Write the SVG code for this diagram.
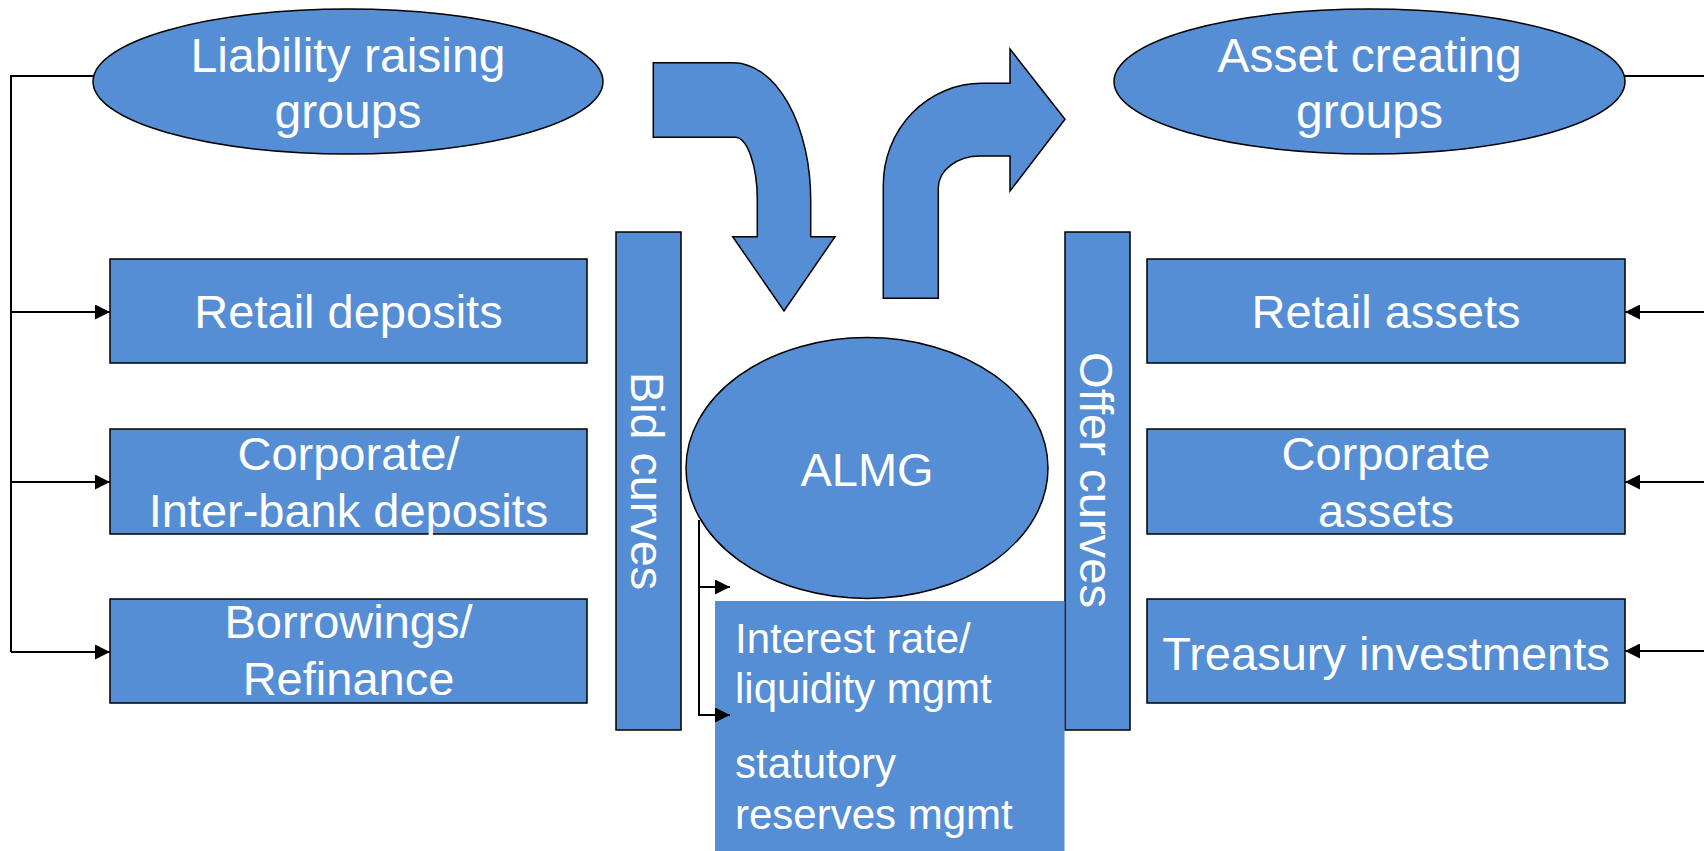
<svg xmlns="http://www.w3.org/2000/svg" width="1704" height="851" viewBox="0 0 1704 851">
<style>
  .shape { fill: #558ED5; stroke: #000; stroke-width: 1.5; }
  .plain { fill: #558ED5; stroke: none; }
  .lbl { font-family: "Liberation Sans", Arial, sans-serif; fill: #fff; font-size: 47px; text-anchor: middle; }
  .big { font-size: 48px; }
  .small { font-size: 42px; text-anchor: start; }
  .conn { fill: none; stroke: #000; stroke-width: 2; }
</style>
<defs>
  <marker id="ah" viewBox="0 0 15 15" refX="15" refY="7.5" markerWidth="15" markerHeight="15" markerUnits="userSpaceOnUse" orient="auto">
    <path d="M0,0 L15,7.5 L0,15 Z" fill="#000"/>
  </marker>
</defs>
<rect width="1704" height="851" fill="#fff"/>

<g id="arrow-down">
  <path class="shape" d="M653.3,62.7 L733,62.7 A77.7,137.3 0 0 1 810.7,200 L810.7,236.7 L835,236.7 L784,311 L732.7,236.7 L757.3,236.7 L757.3,200 A22.3,62.7 0 0 0 735,137.3 L653.3,137.3 Z"/>
</g>
<g id="arrow-up">
  <path class="shape" d="M883.3,298.3 L883.3,185 A98.4,101.7 0 0 1 981.7,83.3 L1010,83.3 L1010,49 L1065,119.3 L1010,191 L1010,156 L980,156 A41.7,32 0 0 0 938.3,188 L938.3,298.3 Z"/>
</g>

<g id="liability">
  <ellipse class="shape" cx="348" cy="81.5" rx="255" ry="72.5"/>
  <text class="lbl big" x="348" y="72">Liability raising</text>
  <text class="lbl big" x="348" y="128">groups</text>
</g>
<g id="asset">
  <ellipse class="shape" cx="1369.5" cy="81.5" rx="255.5" ry="72.5"/>
  <text class="lbl big" x="1369.5" y="72">Asset creating</text>
  <text class="lbl big" x="1369.5" y="128">groups</text>
</g>

<g id="retail-deposits">
  <rect class="shape" x="110" y="259" width="477" height="104"/>
  <text class="lbl" x="348.5" y="328">Retail deposits</text>
</g>
<g id="corporate-deposits">
  <rect class="shape" x="110" y="429" width="477" height="105"/>
  <text class="lbl" x="348.5" y="470">Corporate/</text>
  <text class="lbl" x="348.5" y="526.5">Inter-bank deposits</text>
</g>
<g id="borrowings">
  <rect class="shape" x="110" y="599" width="477" height="104"/>
  <text class="lbl" x="348.5" y="638">Borrowings/</text>
  <text class="lbl" x="348.5" y="695">Refinance</text>
</g>

<g id="bid-curves">
  <rect class="shape" x="616" y="232" width="65" height="498"/>
  <text class="lbl" transform="translate(631,481) rotate(90)" x="0" y="0" textLength="218" lengthAdjust="spacingAndGlyphs">Bid curves</text>
</g>

<g id="almg">
  <ellipse class="shape" cx="867" cy="468" rx="181" ry="130.5"/>
  <text class="lbl" x="867" y="486">ALMG</text>
</g>

<g id="offer-curves">
  <rect class="shape" x="1065" y="232" width="65" height="498"/>
  <text class="lbl" transform="translate(1080,480) rotate(90)" x="0" y="0" textLength="256" lengthAdjust="spacingAndGlyphs">Offer curves</text>
</g>

<g id="mgmt">
  <rect class="plain" x="715" y="601" width="349.5" height="250"/>
  <text class="lbl small" x="735" y="653">Interest rate/</text>
  <text class="lbl small" x="735" y="703">liquidity mgmt</text>
  <text class="lbl small" x="735" y="778">statutory</text>
  <text class="lbl small" x="735" y="829">reserves mgmt</text>
</g>

<g id="retail-assets">
  <rect class="shape" x="1147" y="259" width="478" height="104"/>
  <text class="lbl" x="1386" y="328">Retail assets</text>
</g>
<g id="corporate-assets">
  <rect class="shape" x="1147" y="429" width="478" height="105"/>
  <text class="lbl" x="1386" y="470">Corporate</text>
  <text class="lbl" x="1386" y="526.5">assets</text>
</g>
<g id="treasury">
  <rect class="shape" x="1147" y="599" width="478" height="104"/>
  <text class="lbl" x="1386" y="670">Treasury investments</text>
</g>

<g id="connectors">
  <polyline class="conn" points="94,76 11,76 11,652"/>
  <line class="conn" x1="11" y1="312" x2="110" y2="312" marker-end="url(#ah)"/>
  <line class="conn" x1="11" y1="482" x2="110" y2="482" marker-end="url(#ah)"/>
  <line class="conn" x1="11" y1="652" x2="110" y2="652" marker-end="url(#ah)"/>
  <line class="conn" x1="1625" y1="76" x2="1704" y2="76"/>
  <line class="conn" x1="1704" y1="312" x2="1625" y2="312" marker-end="url(#ah)"/>
  <line class="conn" x1="1704" y1="482" x2="1625" y2="482" marker-end="url(#ah)"/>
  <line class="conn" x1="1704" y1="651" x2="1625" y2="651" marker-end="url(#ah)"/>
  <line class="conn" x1="699" y1="520" x2="699" y2="715"/>
  <line class="conn" x1="698" y1="587" x2="730" y2="587" marker-end="url(#ah)"/>
  <line class="conn" x1="698" y1="715" x2="730" y2="715" marker-end="url(#ah)"/>
</g>
</svg>
